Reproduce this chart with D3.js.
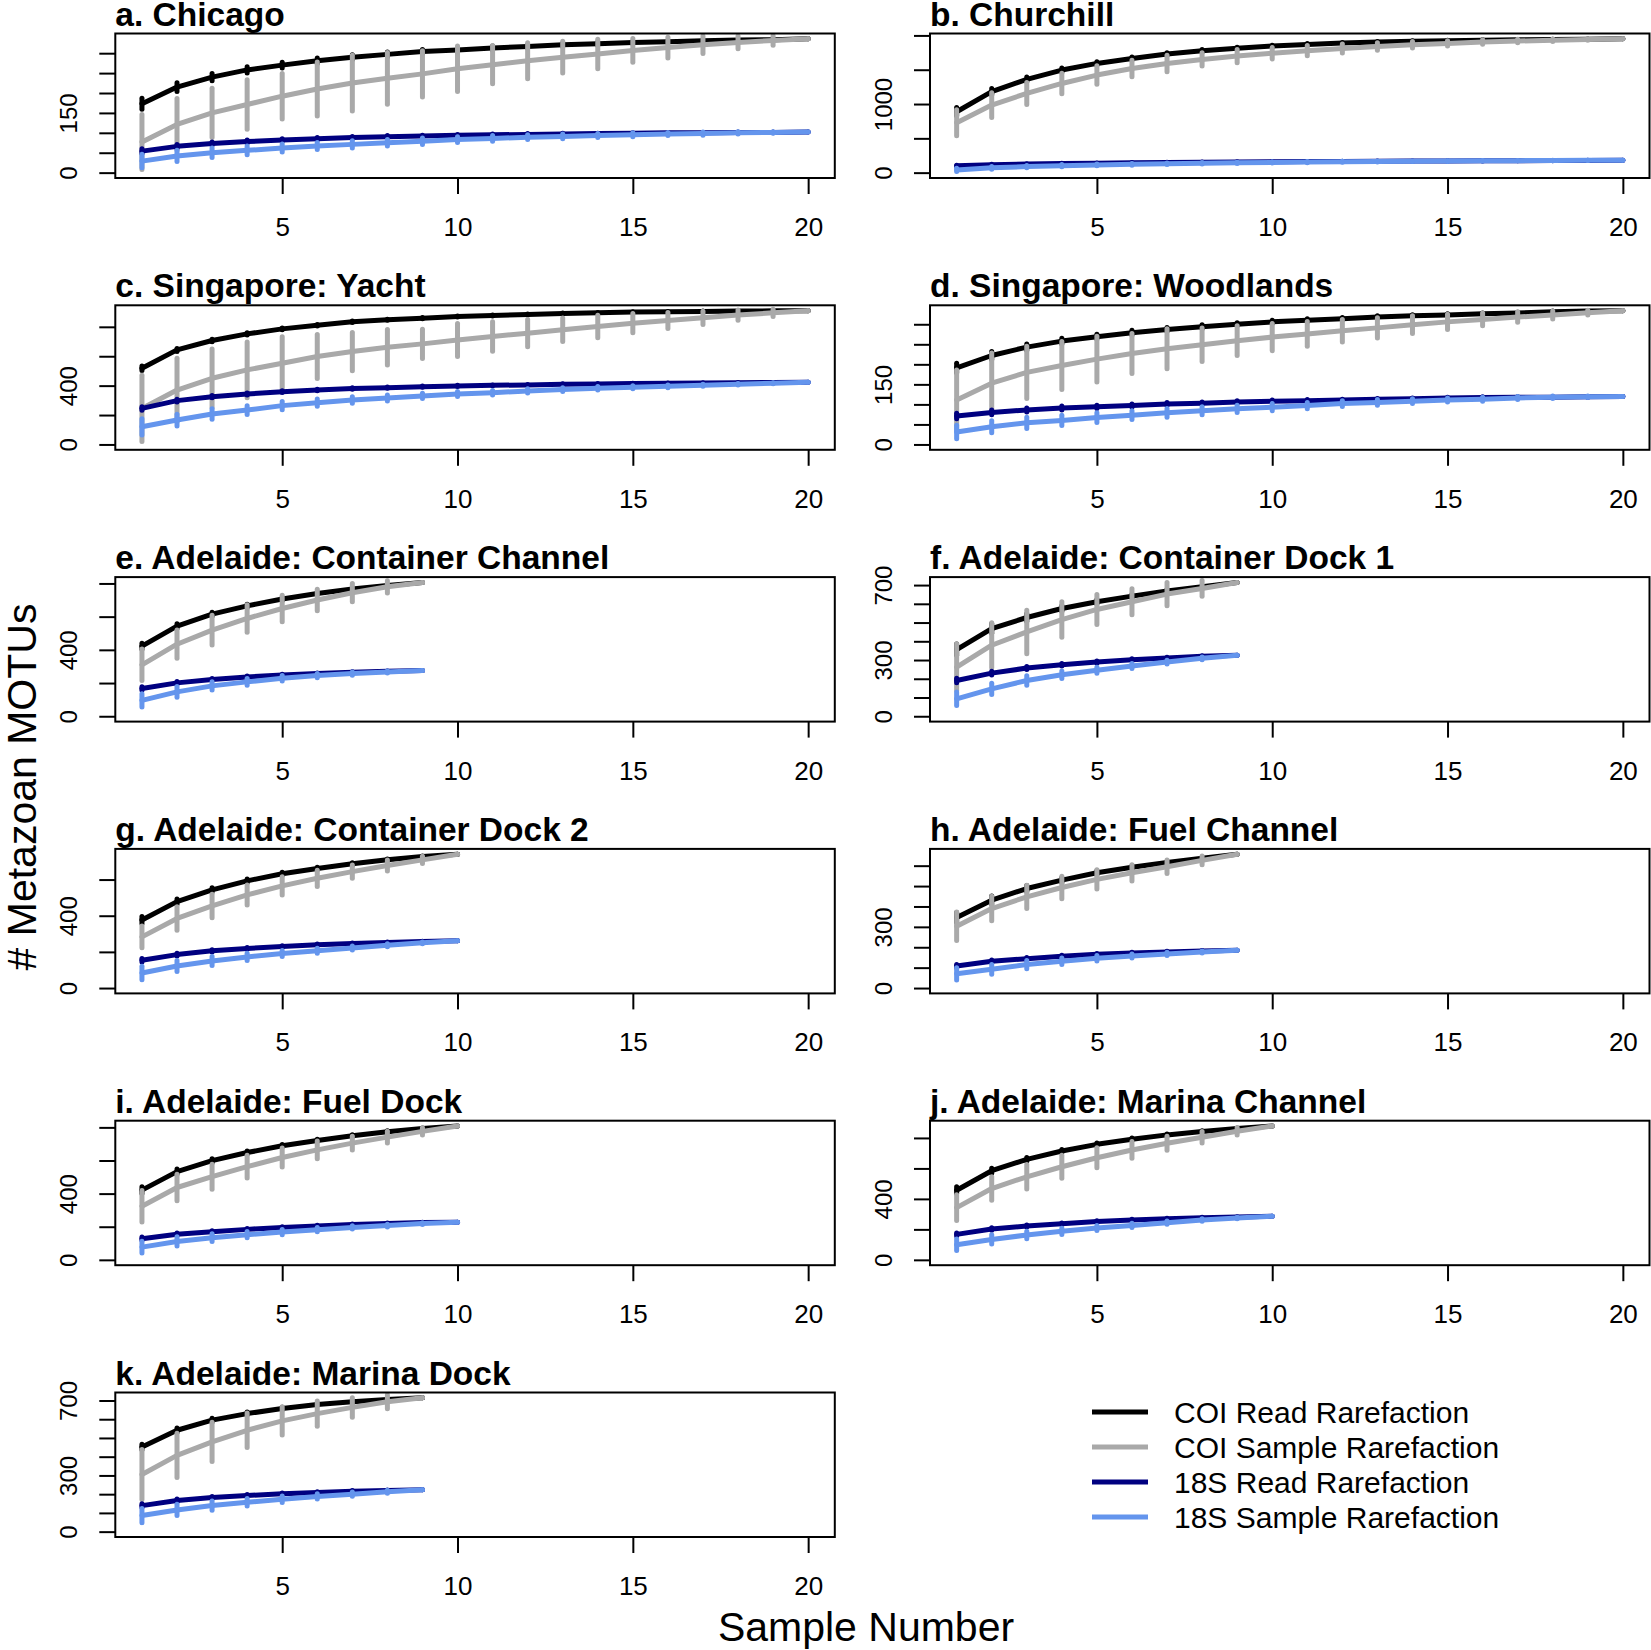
<!DOCTYPE html>
<html>
<head>
<meta charset="utf-8">
<script src="https://cdn.jsdelivr.net/npm/d3@7"></script>
<style>
  body { margin: 0; background: #fff; }
  text { font-family: "Liberation Sans", Arial, Helvetica, sans-serif; }
</style>
</head>
<body>
<svg id="chart" width="1651" height="1650"></svg>
<script>
// panel titles, one per site
const panelTitles = [
  "a. Chicago", "b. Churchill", "c. Singapore: Yacht", "d. Singapore: Woodlands",
  "e. Adelaide: Container Channel", "f. Adelaide: Container Dock 1",
  "g. Adelaide: Container Dock 2", "h. Adelaide: Fuel Channel",
  "i. Adelaide: Fuel Dock", "j. Adelaide: Marina Channel", "k. Adelaide: Marina Dock"
];

// y ticks: step between ticks and which ticks get a label
const yTickStep = [50, 500, 200, 50, 200, 100, 200, 100, 200, 200, 100];
const yTickLabels = [[0, 150], [0, 1000], [0, 400], [0, 150], [0, 400], [0, 300, 700],
  [0, 400], [0, 300], [0, 400], [0, 400], [0, 300, 700]];
const xTicks = [5, 10, 15, 20];

// COI read rarefaction (mean, sd)
const coiRead = [
  [173, 215, 240, 258, 270, 281, 290, 297, 304, 308, 313, 317, 321, 324, 327, 329, 331, 333, 334, 336],
  [888, 1180, 1359, 1495, 1592, 1665, 1728, 1777, 1812, 1845, 1869, 1888, 1903, 1914, 1923, 1930, 1936, 1941, 1946, 1950],
  [518, 643, 707, 752, 786, 811, 834, 848, 859, 870, 877, 884, 891, 895, 900, 902, 905, 907, 909, 910],
  [191, 222, 243, 258, 269, 279, 287, 294, 300, 306, 310, 314, 318, 321, 323, 326, 328, 331, 333, 334],
  [422, 543, 615, 665, 706, 740, 766, 788, 806],
  [355, 468, 527, 575, 611, 641, 668, 691, 714],
  [376, 478, 543, 593, 632, 661, 687, 709, 727, 740],
  [346, 431, 488, 529, 565, 592, 616, 637, 656],
  [421, 533, 599, 648, 689, 721, 749, 774, 793, 808],
  [457, 585, 659, 714, 758, 791, 820, 842, 862, 878],
  [452, 541, 595, 630, 657, 679, 693, 705, 714]
];
const coiReadSd = [
  [14, 11, 9, 8, 7, 7, 6, 6, 5, 5, 5, 4, 4, 4, 3, 3, 3, 2, 2, 0],
  [60, 45, 35, 30, 25, 22, 20, 18, 15, 13, 12, 10, 9, 8, 7, 6, 5, 4, 3, 0],
  [15, 10, 8, 7, 6, 5, 5, 4, 4, 3, 3, 3, 3, 2, 2, 2, 2, 1, 1, 0],
  [12, 10, 8, 7, 6, 6, 5, 5, 4, 4, 4, 3, 3, 3, 3, 2, 2, 2, 1, 0],
  [18, 14, 12, 10, 9, 7, 6, 4, 0],
  [30, 25, 20, 15, 12, 10, 8, 6, 0],
  [20, 15, 12, 10, 8, 7, 6, 5, 3, 0],
  [25, 20, 15, 12, 10, 8, 6, 4, 0],
  [20, 15, 12, 10, 8, 7, 6, 5, 3, 0],
  [22, 16, 12, 10, 9, 8, 6, 5, 3, 0],
  [15, 12, 10, 8, 7, 6, 5, 4, 0]
];

// COI sample rarefaction (mean, sd)
const coiSample = [
  [77, 121, 150, 171, 192, 210, 225, 237, 248, 261, 271, 281, 290, 298, 307, 314, 321, 327, 332, 336],
  [728, 985, 1155, 1300, 1422, 1519, 1592, 1650, 1699, 1740, 1777, 1810, 1840, 1864, 1884, 1903, 1918, 1930, 1940, 1950],
  [245, 370, 450, 507, 552, 598, 632, 661, 684, 711, 734, 757, 780, 802, 825, 843, 861, 880, 895, 910],
  [111, 153, 180, 197, 213, 227, 239, 249, 259, 268, 276, 284, 291, 299, 306, 312, 318, 323, 329, 334],
  [310, 434, 519, 589, 649, 700, 744, 780, 806],
  [262, 379, 450, 516, 570, 611, 652, 682, 714],
  [283, 385, 454, 515, 565, 607, 644, 678, 709, 740],
  [303, 390, 447, 493, 533, 565, 595, 626, 656],
  [324, 437, 502, 563, 618, 664, 705, 741, 776, 808],
  [343, 468, 545, 611, 670, 721, 765, 804, 844, 878],
  [305, 407, 479, 541, 591, 630, 663, 693, 714]
];
const coiSampleSd = [
  [69, 65, 62, 62, 57, 68, 70, 65, 58, 57, 48, 45, 40, 37, 30, 26, 22, 16, 12, 0],
  [190, 180, 160, 150, 135, 120, 120, 97, 97, 85, 75, 65, 55, 48, 40, 33, 25, 18, 12, 0],
  [225, 216, 200, 190, 180, 150, 130, 120, 100, 112, 100, 93, 80, 76, 65, 55, 45, 35, 25, 0],
  [75, 75, 65, 60, 57, 50, 50, 42, 37, 34, 31, 28, 25, 22, 19, 16, 13, 10, 6, 0],
  [95, 85, 90, 83, 80, 65, 55, 37, 0],
  [125, 120, 116, 95, 80, 70, 62, 42, 0],
  [60, 65, 65, 55, 50, 45, 37, 30, 20, 0],
  [70, 60, 57, 55, 47, 40, 33, 22, 0],
  [95, 80, 76, 68, 57, 53, 42, 36, 22, 0],
  [85, 77, 80, 75, 66, 55, 46, 38, 25, 0],
  [134, 118, 105, 92, 75, 67, 52, 37, 0]
];

// 18S read rarefaction (mean, sd)
const s18Read = [
  [54, 66, 73, 78, 82, 85, 88, 90, 92, 94, 95, 96, 97, 98, 99, 100, 100, 101, 101, 102],
  [100, 115, 125, 132, 138, 143, 147, 151, 155, 158, 161, 164, 166, 168, 170, 172, 174, 176, 178, 180],
  [245, 298, 325, 343, 359, 370, 380, 386, 393, 398, 402, 405, 409, 411, 414, 416, 418, 420, 421, 423],
  [71, 80, 86, 91, 94, 97, 101, 103, 106, 108, 109, 111, 113, 114, 116, 117, 118, 118, 119, 120],
  [167, 201, 221, 237, 249, 257, 265, 271, 275],
  [191, 230, 257, 275, 289, 302, 311, 320, 325],
  [154, 185, 206, 219, 230, 239, 246, 252, 257, 261],
  [108, 131, 144, 156, 166, 172, 177, 182, 185],
  [128, 154, 170, 184, 196, 205, 213, 219, 225, 227],
  [167, 202, 222, 237, 251, 262, 270, 277, 281, 286],
  [139, 166, 182, 193, 202, 209, 216, 220, 223]
];
const s18ReadSd = [
  [6, 5, 4, 4, 3, 3, 3, 3, 2, 2, 2, 2, 2, 1, 1, 1, 1, 1, 1, 0],
  [8, 6, 5, 5, 4, 4, 4, 3, 3, 3, 3, 2, 2, 2, 2, 2, 1, 1, 1, 0],
  [12, 10, 8, 7, 6, 5, 5, 4, 4, 4, 3, 3, 3, 3, 2, 2, 2, 1, 1, 0],
  [7, 6, 5, 5, 4, 4, 4, 3, 3, 3, 3, 2, 2, 2, 2, 2, 1, 1, 1, 0],
  [10, 8, 6, 5, 4, 4, 3, 2, 0],
  [12, 10, 8, 7, 6, 5, 4, 3, 0],
  [10, 8, 6, 5, 4, 4, 3, 3, 2, 0],
  [8, 7, 6, 5, 4, 3, 3, 2, 0],
  [10, 8, 6, 5, 4, 4, 3, 3, 2, 0],
  [10, 8, 6, 5, 5, 4, 3, 3, 2, 0],
  [10, 8, 6, 5, 4, 4, 3, 2, 0]
];

// 18S sample rarefaction (mean, sd)
const s18Sample = [
  [29, 42, 50, 56, 62, 67, 71, 75, 79, 83, 86, 89, 91, 93, 95, 97, 98, 100, 101, 102],
  [40, 70, 88, 102, 113, 122, 130, 137, 143, 149, 154, 158, 162, 166, 169, 172, 175, 177, 179, 180],
  [120, 166, 207, 234, 264, 284, 302, 316, 330, 343, 352, 364, 373, 382, 389, 395, 402, 409, 416, 423],
  [31, 44, 54, 60, 67, 73, 79, 84, 89, 93, 97, 102, 105, 108, 111, 113, 116, 118, 119, 120],
  [96, 147, 183, 207, 229, 245, 257, 267, 275],
  [93, 146, 191, 221, 245, 268, 289, 309, 325],
  [83, 122, 150, 172, 191, 206, 222, 237, 250, 261],
  [70, 92, 115, 131, 146, 157, 167, 177, 185],
  [77, 111, 134, 152, 168, 182, 196, 207, 219, 227],
  [99, 134, 163, 187, 209, 226, 244, 262, 275, 286],
  [86, 116, 139, 157, 173, 188, 200, 213, 223]
];
const s18SampleSd = [
  [17, 14, 12, 11, 10, 9, 9, 8, 8, 7, 7, 6, 6, 5, 5, 4, 4, 3, 2, 0],
  [25, 20, 18, 16, 14, 13, 12, 11, 10, 9, 8, 7, 6, 5, 5, 4, 3, 2, 1, 0],
  [55, 40, 35, 30, 28, 25, 22, 20, 18, 17, 15, 14, 13, 12, 10, 9, 7, 5, 3, 0],
  [17, 15, 14, 13, 12, 11, 11, 10, 9, 9, 8, 7, 7, 6, 5, 5, 4, 3, 2, 0],
  [40, 32, 25, 20, 16, 13, 10, 6, 0],
  [36, 30, 25, 20, 16, 13, 10, 7, 0],
  [37, 30, 25, 20, 17, 14, 11, 8, 5, 0],
  [30, 24, 20, 16, 13, 10, 8, 5, 0],
  [35, 28, 23, 19, 16, 13, 10, 8, 5, 0],
  [38, 30, 25, 20, 17, 14, 11, 8, 5, 0],
  [38, 30, 25, 20, 17, 14, 11, 8, 0]
];

const seriesNames = ["COI Read Rarefaction", "COI Sample Rarefaction", "18S Read Rarefaction", "18S Sample Rarefaction"];
const seriesColors = ["#000000", "#a9a9a9", "#000080", "#6495ed"];
const seriesMeans = [coiRead, coiSample, s18Read, s18Sample];
const seriesSds = [coiReadSd, coiSampleSd, s18ReadSd, s18SampleSd];

// layout
const svg = d3.select("#chart");
const colLeft = [115.3, 930];
const boxW = 719.5, boxH = 144.5;
const rowTop0 = 33.5, rowStep = 271.8;
const lineW = 5;

panelTitles.forEach((title, p) => {
  const left = colLeft[p % 2];
  const top = rowTop0 + Math.floor(p / 2) * rowStep;
  const g = svg.append("g");

  // R style xlim c(1,20) and ylim c(0,max), each widened by 4%
  const x = d3.scaleLinear().domain([1 - 0.04 * 19, 20 + 0.04 * 19]).range([left, left + boxW]);
  const yMax = d3.max(seriesMeans, s => d3.max(s[p]));
  const y = d3.scaleLinear().domain([-0.04 * yMax, 1.04 * yMax]).range([top + boxH, top]);

  const clipId = "clip" + p;
  g.append("clipPath").attr("id", clipId)
    .append("rect").attr("x", left).attr("y", top).attr("width", boxW).attr("height", boxH);

  const plot = g.append("g").attr("clip-path", `url(#${clipId})`);
  const line = d3.line().x((d, i) => x(i + 1)).y(d => y(d));

  seriesMeans.forEach((s, k) => {
    const means = s[p], sds = seriesSds[k][p];
    plot.append("path")
      .attr("d", line(means))
      .attr("fill", "none")
      .attr("stroke", seriesColors[k])
      .attr("stroke-width", lineW)
      .attr("stroke-linejoin", "round")
      .attr("stroke-linecap", "round");
    plot.selectAll(null).data(means).enter().append("line")
      .attr("x1", (d, i) => x(i + 1))
      .attr("x2", (d, i) => x(i + 1))
      .attr("y1", (d, i) => y(d - sds[i]))
      .attr("y2", (d, i) => y(d + sds[i]))
      .attr("stroke", seriesColors[k])
      .attr("stroke-width", lineW)
      .attr("stroke-linecap", "round");
  });

  // box
  g.append("rect")
    .attr("x", left).attr("y", top).attr("width", boxW).attr("height", boxH)
    .attr("fill", "none").attr("stroke", "#000").attr("stroke-width", 2);

  // x axis
  const xAxis = g.append("g")
    .attr("transform", `translate(0,${top + boxH})`)
    .call(d3.axisBottom(x).tickValues(xTicks).tickSize(16).tickSizeOuter(0));
  xAxis.select(".domain").remove();
  xAxis.selectAll("line").attr("stroke-width", 2);
  xAxis.selectAll("text")
    .attr("y", 58).attr("dy", null)
    .style("font-size", "26px").attr("fill", "#000");

  // y axis, rotated labels as in R
  const yTicks = d3.range(0, 1.04 * yMax + 1e-9, yTickStep[p]);
  const yAxis = g.append("g")
    .attr("transform", `translate(${left},0)`)
    .call(d3.axisLeft(y).tickValues(yTicks).tickSize(16).tickSizeOuter(0)
      .tickFormat(v => yTickLabels[p].includes(v) ? String(v) : ""));
  yAxis.select(".domain").remove();
  yAxis.selectAll("line").attr("stroke-width", 2);
  yAxis.selectAll("text")
    .attr("x", null).attr("dy", null)
    .attr("text-anchor", "middle")
    .attr("transform", "translate(-38,0) rotate(-90)")
    .style("font-size", "24px").attr("fill", "#000");

  // title
  g.append("text")
    .attr("x", left).attr("y", top - 8)
    .style("font-size", "33.5px").style("font-weight", "bold")
    .text(title);
});

// legend
const legend = svg.append("g");
seriesNames.forEach((name, k) => {
  const ly = 1412 + k * 35;
  legend.append("line")
    .attr("x1", 1092).attr("x2", 1148).attr("y1", ly).attr("y2", ly)
    .attr("stroke", seriesColors[k]).attr("stroke-width", lineW);
  legend.append("text")
    .attr("x", 1174).attr("y", ly + 10.5)
    .style("font-size", "30px")
    .text(name);
});

// outer axis titles
svg.append("text")
  .attr("transform", "translate(36,787) rotate(-90)")
  .attr("text-anchor", "middle")
  .style("font-size", "41px")
  .text("# Metazoan MOTUs");

svg.append("text")
  .attr("x", 866).attr("y", 1641)
  .attr("text-anchor", "middle")
  .style("font-size", "41px")
  .text("Sample Number");
</script>
</body>
</html>
